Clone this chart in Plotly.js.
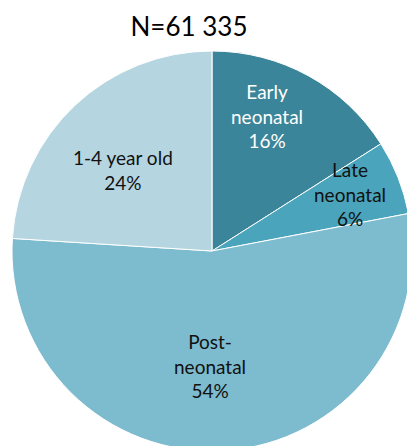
<!DOCTYPE html>
<html>
<head>
<meta charset="utf-8">
<script src="https://cdn.plot.ly/plotly-3.0.1.min.js"></script>
<style>
html,body{margin:0;padding:0;overflow:hidden;background:#fff;width:407px;height:446px;}
#chart{width:424px;height:460px;}
</style>
</head>
<body>
<div id="chart"></div>
<script>
const categories = ["Early neonatal", "Late neonatal", "Post-neonatal", "1-4 year old"];
const labelLines = ["Early<br>neonatal", "Late<br>neonatal", "Post-<br>neonatal", "1-4 year old"];
const values = [16, 6, 54, 24];
const colors = ["#3a8599", "#4aa4bc", "#7dbbcf", "#b5d5e1"];
const textColors = ["#ffffff", "#111111", "#111111", "#111111"];
const titleText = "N=61 335";

const W = 424, H = 460;
const cx = 212, cy = 251, R = 200;
// label anchor positions (pixels)
const labelPos = [[267,116],[350,194],[210,366],[123,170]];

const trace = {
  type: "pie",
  labels: categories,
  values: values,
  sort: false,
  direction: "clockwise",
  rotation: 0,
  marker: {colors: colors, line: {color: "#ffffff", width: 1}},
  textinfo: "none",
  hoverinfo: "label+percent",
  domain: {x: [(cx - R) / W, (cx + R) / W], y: [(H - cy - R) / H, (H - cy + R) / H]},
  showlegend: false
};

const total = values.reduce((a, b) => a + b, 0);
const annotations = categories.map((c, i) => ({
  xref: "paper", yref: "paper",
  x: labelPos[i][0] / W, y: 1 - labelPos[i][1] / H,
  xanchor: "center", yanchor: "middle",
  text: labelLines[i] + "<br>" + Math.round(values[i] / total * 100) + "%",
  showarrow: false,
  font: {family: "Lato, 'Open Sans', sans-serif", size: 19, color: textColors[i]},
  align: "center"
}));

const layout = {
  width: W, height: H,
  margin: {l: 0, r: 0, t: 0, b: 0},
  paper_bgcolor: "#ffffff",
  title: {
    text: titleText,
    x: 189 / W, xanchor: "center", xref: "paper",
    y: 1 - 27 / H, yanchor: "middle", yref: "container",
    font: {family: "Lato, 'Open Sans', sans-serif", size: 26, color: "#000000"}
  },
  annotations: annotations
};

Plotly.newPlot("chart", [trace], layout, {displayModeBar: false, staticPlot: true});
</script>
</body>
</html>
